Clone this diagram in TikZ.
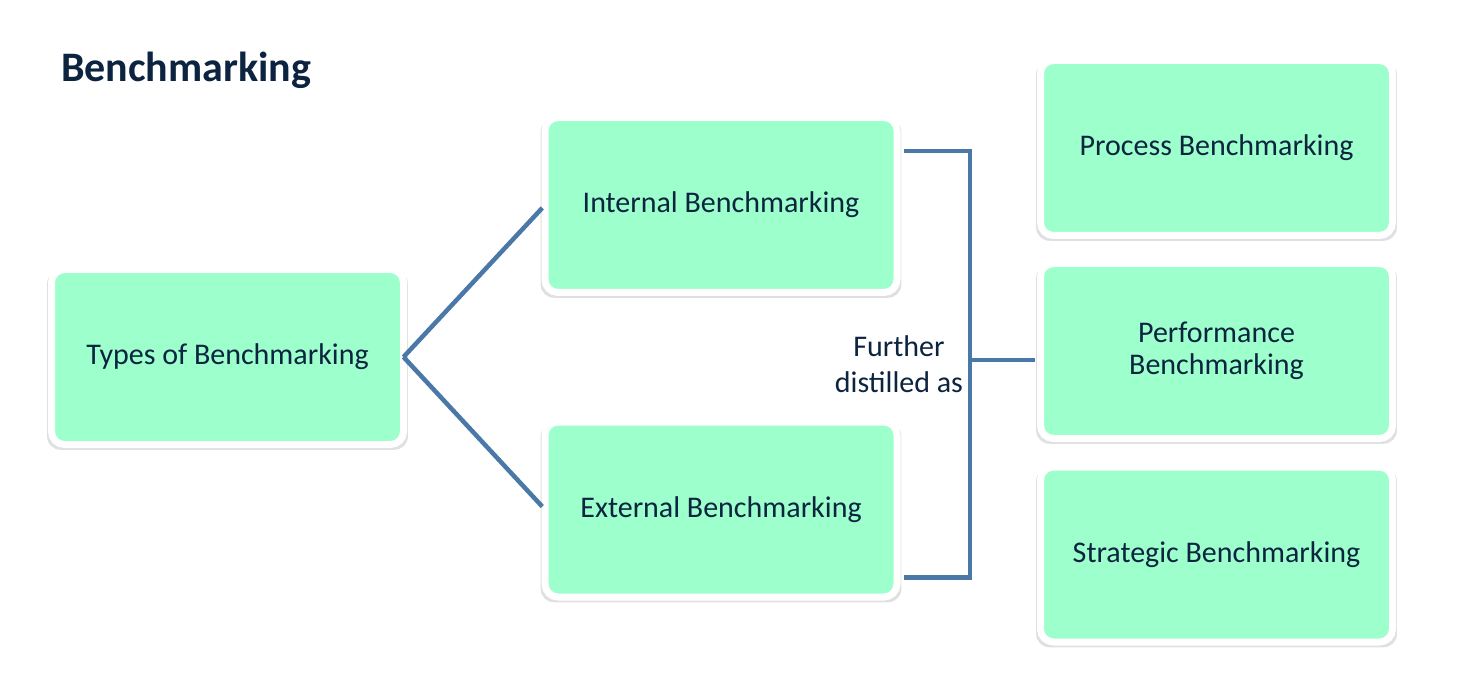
\documentclass[tikz,border=0pt]{standalone}
\usepackage{fontspec}
\setmainfont{Carlito}
\usetikzlibrary{shadows,calc}
\definecolor{boxgreen}{RGB}{156,255,204}
\definecolor{navy}{RGB}{12,36,64}
\definecolor{linkblue}{RGB}{74,121,168}
\tikzset{
  bbox/.style={rectangle, rounded corners=13pt, fill=boxgreen, draw=white, line width=7pt,
    minimum width=352pt, minimum height=175pt, outer sep=0pt, inner sep=0pt,
    text=navy, align=center, font=\fontsize{30}{32}\selectfont,
    drop shadow={shadow xshift=0pt, shadow yshift=-3pt, shadow scale=1.025, opacity=0.12, fill=black}},
  conn/.style={draw=linkblue, line width=4.5pt},
  lbl/.style={text=navy, align=center, font=\fontsize{30}{36}\selectfont, inner sep=0pt}
}
\begin{document}
\begin{tikzpicture}[x=1pt, y=-1pt]
\fill[white] (0,0) rectangle (1458,684);
\useasboundingbox (0,0) rectangle (1458,684);
\node[anchor=west, text=navy, font=\fontsize{42}{48}\selectfont\bfseries, inner sep=0pt] (title) at (61,70) {Benchmarking};
\node[bbox] (types) at (227.5,357) {Types of Benchmarking};
\node[bbox] (internal) at (721,205) {Internal Benchmarking};
\node[bbox] (external) at (721,509.5) {External Benchmarking};
\node[bbox] (process) at (1216.5,148) {Process Benchmarking};
\node[bbox] (performance) at (1216.5,351) {Performance\\Benchmarking};
\node[bbox] (strategic) at (1216.5,554.5) {Strategic Benchmarking};
\coordinate (bx) at (970,360);
\draw[conn, line join=miter, shorten >=4pt] (types.east) -- (internal.west);
\draw[conn, line join=miter, shorten >=4pt] (types.east) -- (external.west);
\draw[conn] ($(internal.north east)+(6.5,33.5)$) -| (bx) |- ($(external.south east)+(6.5,-19.5)$);
\draw[conn, shorten >=6pt] (bx) -- (bx -| performance.west);
\node[lbl] (further) at (899,364) {Further\\distilled as};
\end{tikzpicture}
\end{document}
